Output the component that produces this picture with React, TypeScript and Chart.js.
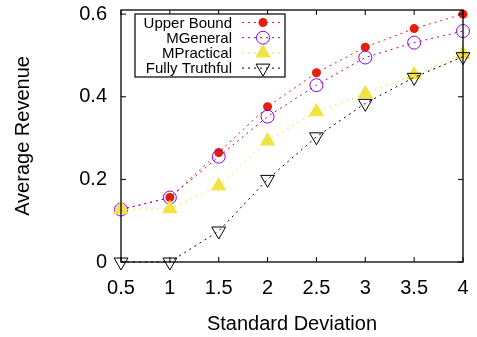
import React, { useEffect, useRef } from "react";
import { Chart, registerables } from "chart.js";

Chart.register(...registerables);

const xValues = [0.5, 1, 1.5, 2, 2.5, 3, 3.5, 4];
const upperBound = [0.127, 0.156, 0.265, 0.376, 0.458, 0.52, 0.565, 0.6];
const mGeneral = [0.127, 0.156, 0.255, 0.352, 0.428, 0.495, 0.531, 0.559];
const mPractical = [0.127, 0.129, 0.184, 0.293, 0.364, 0.407, 0.453, 0.503];
const fullyTruthful = [0, 0, 0.075, 0.2, 0.303, 0.384, 0.447, 0.497];
const seriesNames = ["Upper Bound", "MGeneral", "MPractical", "Fully Truthful"];
const yTickValues = [0, 0.2, 0.4, 0.6];
const xTickValues = [0.5, 1, 1.5, 2, 2.5, 3, 3.5, 4];

const FONT = "'Liberation Sans', Arial, Helvetica, sans-serif";

function drawMarker(ctx: CanvasRenderingContext2D, style: string, rotation: number, r: number, bw: number, x: number, y: number) {
  ctx.beginPath();
  if (style === "circle") {
    ctx.arc(x, y, r, 0, Math.PI * 2);
  } else {
    let rad = (rotation * Math.PI) / 180;
    ctx.moveTo(x + Math.sin(rad) * r, y - Math.cos(rad) * r);
    rad += (2 * Math.PI) / 3;
    ctx.lineTo(x + Math.sin(rad) * r, y - Math.cos(rad) * r);
    rad += (2 * Math.PI) / 3;
    ctx.lineTo(x + Math.sin(rad) * r, y - Math.cos(rad) * r);
    ctx.closePath();
  }
  ctx.fill();
  if (bw > 0) ctx.stroke();
}

const framePlugin = {
  id: "frame",
  afterDatasetsDraw(chart: any) {
    const { ctx, chartArea, scales } = chart;
    const { left, right, top, bottom } = chartArea;
    ctx.save();
    ctx.strokeStyle = "#000";
    ctx.lineWidth = 1.3;
    ctx.strokeRect(left, top, right - left, bottom - top);
    ctx.lineWidth = 1;
    const tl = 5;
    ctx.beginPath();
    for (const v of xTickValues) {
      const x = scales.x.getPixelForValue(v);
      ctx.moveTo(x, bottom);
      ctx.lineTo(x, bottom - tl);
      ctx.moveTo(x, top);
      ctx.lineTo(x, top + tl);
    }
    for (const v of yTickValues) {
      const y = scales.y.getPixelForValue(v);
      ctx.moveTo(left, y);
      ctx.lineTo(left + tl, y);
      ctx.moveTo(right, y);
      ctx.lineTo(right - tl, y);
    }
    ctx.stroke();

    // legend
    const bx = 135, by = 14, bw = 150, bh = 63;
    ctx.fillStyle = "#fff";
    ctx.fillRect(bx, by, bw, bh);
    ctx.strokeStyle = "#000";
    ctx.lineWidth = 1.2;
    ctx.strokeRect(bx, by, bw, bh);
    ctx.font = `15px ${FONT}`;
    ctx.textAlign = "right";
    ctx.textBaseline = "middle";
    chart.data.datasets.forEach((ds: any, i: number) => {
      const y = 22.5 + i * 15.2;
      ctx.fillStyle = "#000";
      ctx.fillText(seriesNames[i], 232, y + 1);
      ctx.save();
      ctx.strokeStyle = ds.borderColor;
      ctx.lineWidth = 1;
      ctx.setLineDash(ds.borderDash);
      ctx.beginPath();
      ctx.moveTo(242, y);
      ctx.lineTo(283, y);
      ctx.stroke();
      ctx.restore();
      ctx.save();
      ctx.strokeStyle = ds.pointBorderColor;
      ctx.fillStyle = ds.pointBackgroundColor;
      ctx.lineWidth = ds.pointBorderWidth;
      drawMarker(ctx, ds.pointStyle, ds.pointRotation || 0, ds.pointRadius, ds.pointBorderWidth, 263, y);
      ctx.restore();
    });
    ctx.restore();
  },
};

export default function App() {
  const ref = useRef<HTMLCanvasElement>(null);
  useEffect(() => {
    const toPts = (arr: number[]) => arr.map((v, i) => ({ x: xValues[i], y: v }));
    const chart = new Chart(ref.current!, {
      type: "line",
      data: {
        datasets: [
          {
            label: seriesNames[0],
            data: toPts(upperBound),
            borderColor: "#e51e10",
            borderWidth: 1,
            borderDash: [2, 4],
            pointStyle: "circle",
            pointRadius: 4.5,
            pointBackgroundColor: "#e51e10",
            pointBorderColor: "#e51e10",
            pointBorderWidth: 0,
            order: 4,
          },
          {
            label: seriesNames[1],
            data: toPts(mGeneral),
            borderColor: "#9400d3",
            borderWidth: 1,
            borderDash: [2, 4],
            pointStyle: "circle",
            pointRadius: 6.5,
            pointBackgroundColor: "rgba(0,0,0,0)",
            pointBorderColor: "#9400d3",
            pointBorderWidth: 1,
            order: 3,
          },
          {
            label: seriesNames[2],
            data: toPts(mPractical),
            borderColor: "#f0e442",
            borderWidth: 1,
            borderDash: [2, 4],
            pointStyle: "triangle",
            pointRadius: 9,
            pointBackgroundColor: "#f0e442",
            pointBorderColor: "#f0e442",
            pointBorderWidth: 0,
            order: 2,
          },
          {
            label: seriesNames[3],
            data: toPts(fullyTruthful),
            borderColor: "#000000",
            borderWidth: 1,
            borderDash: [2, 4],
            pointStyle: "triangle",
            pointRotation: 180,
            pointRadius: 8,
            pointBackgroundColor: "rgba(0,0,0,0)",
            pointBorderColor: "#000000",
            pointBorderWidth: 1,
            order: 1,
          },
        ] as any,
      },
      options: {
        animation: false,
        responsive: false,
        clip: false as any,
        layout: { padding: { top: 10, right: 14, left: 0, bottom: 0 } },
        plugins: { legend: { display: false }, tooltip: { enabled: false } },
        elements: { line: { tension: 0 } },
        scales: {
          x: {
            type: "linear",
            min: 0.5,
            max: 4,
            grid: { display: false, drawTicks: false },
            border: { display: false },
            afterBuildTicks: (s: any) => {
              s.ticks = xTickValues.map((v) => ({ value: v }));
            },
            afterFit: (s: any) => {
              s.height = 75;
              s.paddingLeft = 0;
              s.paddingRight = 0;
            },
            ticks: {
              color: "#000",
              padding: 14,
              maxRotation: 0,
              autoSkip: false,
              font: { family: FONT, size: 20 },
              callback: (v: any) => String(v),
            },
            title: {
              display: true,
              text: "Standard Deviation",
              color: "#000",
              font: { family: FONT, size: 20 },
              padding: { top: 0, bottom: 1 },
            },
          },
          y: {
            min: 0,
            max: 0.61,
            grid: { display: false, drawTicks: false },
            border: { display: false },
            afterBuildTicks: (s: any) => {
              s.ticks = yTickValues.map((v) => ({ value: v }));
            },
            afterFit: (s: any) => {
              s.width = 121;
              s.paddingTop = 0;
              s.paddingBottom = 0;
            },
            ticks: {
              color: "#000",
              padding: 14,
              font: { family: FONT, size: 20 },
              callback: (v: any) => String(v),
            },
            title: {
              display: true,
              text: "Average Revenue",
              color: "#000",
              font: { family: FONT, size: 20 },
              padding: { top: 11, bottom: 0 },
            },
          },
        },
      },
      plugins: [framePlugin],
    });
    return () => chart.destroy();
  }, []);
  return (
    <div style={{ position: "absolute", left: 0, top: 0, width: 477, height: 337, background: "#fff" }}>
      <canvas ref={ref} width={477} height={337} />
    </div>
  );
}
